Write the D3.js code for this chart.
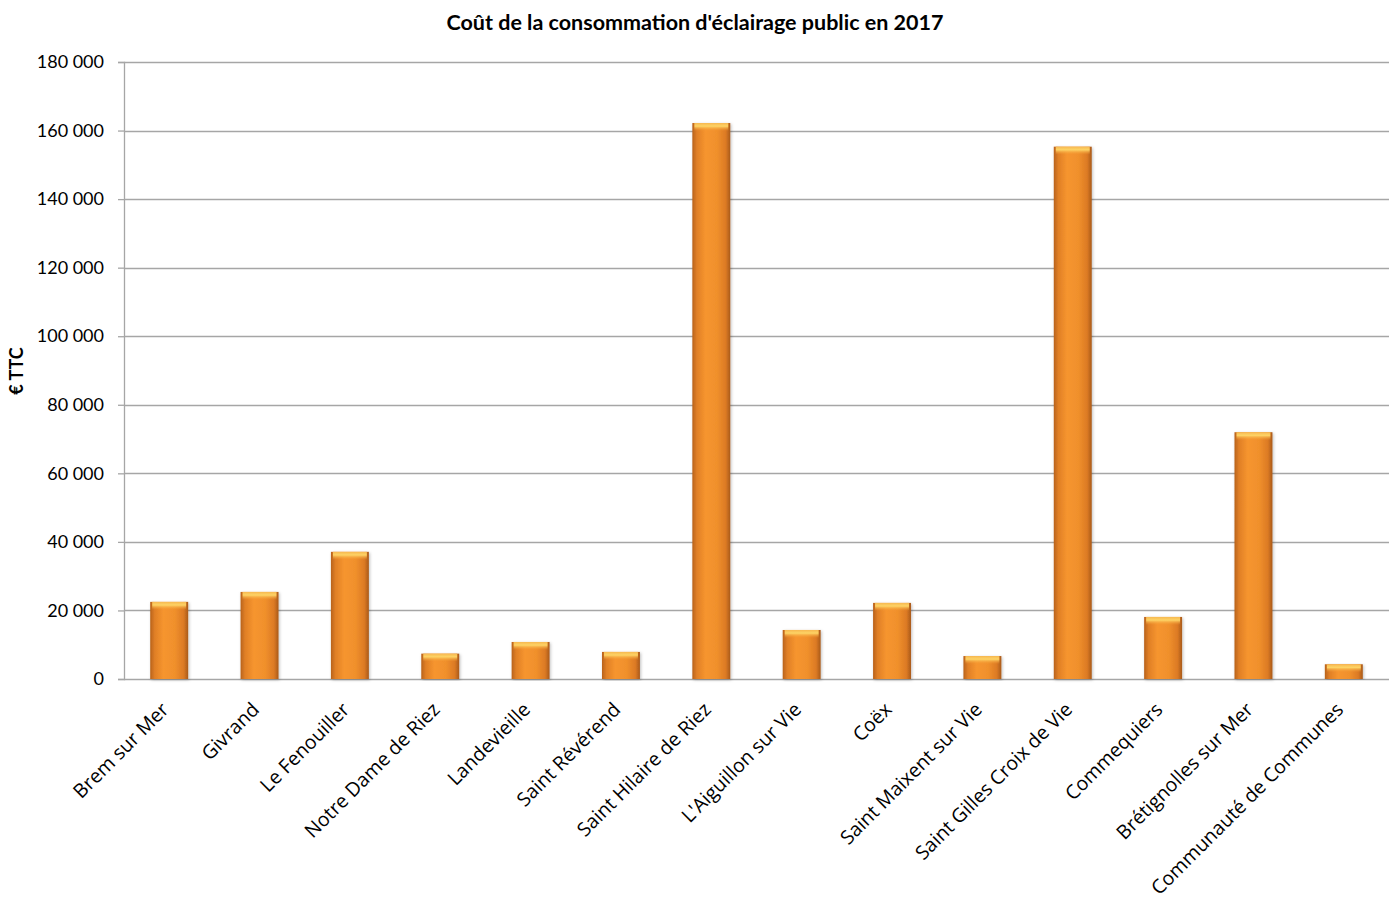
<!DOCTYPE html>
<html lang='fr'>

<head>
   <meta charset='UTF-8'>
   <title>Coût de la consommation d'éclairage public en 2017</title>
   <script src='https://d3js.org/d3.v7.min.js'></script>
   <style>
      body {
         margin: 0;
         background: #fff;
      }

      svg {
         display: block;
         font-family: 'Lato', 'Open Sans', sans-serif;
      }
   </style>
</head>

<body>
   <div id='chart'></div>
   <script>
      const communes = ['Brem sur Mer', 'Givrand', 'Le Fenouiller', 'Notre Dame de Riez', 'Landevieille',
         'Saint Révérend', 'Saint Hilaire de Riez', "L'Aiguillon sur Vie", 'Coëx', 'Saint Maixent sur Vie',
         'Saint Gilles Croix de Vie', 'Commequiers', 'Brétignolles sur Mer', 'Communauté de Communes'];
      const couts = [22500, 25400, 37100, 7400, 10800, 7900, 162200, 14300, 22200, 6700, 155300, 18100, 72000, 4300];
      const yTicks = [0, 20000, 40000, 60000, 80000, 100000, 120000, 140000, 160000, 180000];
      const title = "Coût de la consommation d'éclairage public en 2017";
      const yTitle = '€ TTC';

      const W = 1389, H = 899;
      const margins = { top: 62, right: 0, bottom: 220, left: 124 };
      const width = W - margins.left - margins.right;
      const height = 679 - margins.top;

      const svg = d3.select('#chart').append('svg').attr('width', W).attr('height', H);
      const defs = svg.append('defs');

      // horizontal shading of the bars: darker edges, bright centre
      const side = defs.append('linearGradient').attr('id', 'barSide').attr('x1', 0).attr('x2', 1).attr('y1', 0).attr('y2', 0);
      [[0, '#b8621c'], [0.12, '#e07f26'], [0.35, '#f6952f'], [0.65, '#f0902c'], [0.88, '#dc7a24'], [1, '#a95a1a']]
         .forEach(s => side.append('stop').attr('offset', s[0]).attr('stop-color', s[1]));

      const cap = defs.append('linearGradient').attr('id', 'barCap').attr('x1', 0).attr('x2', 0).attr('y1', 0).attr('y2', 1);
      [[0, '#f7b850'], [0.4, '#fdd466'], [1, '#f59a33', 0]]
         .forEach(s => cap.append('stop').attr('offset', s[0]).attr('stop-color', s[1]).attr('stop-opacity', s.length > 2 ? s[2] : 1));

      const shade = defs.append('filter').attr('id', 'shadow').attr('x', '-20%').attr('y', '-5%').attr('width', '140%').attr('height', '110%');
      shade.append('feDropShadow').attr('dx', 1).attr('dy', 1).attr('stdDeviation', 1.5).attr('flood-color', '#000').attr('flood-opacity', 0.25);

      const g = svg.append('g').attr('transform', `translate(${margins.left}, ${margins.top})`);

      const x = d3.scaleBand().domain(communes).range([0, width]).paddingInner(0.58).paddingOuter(0.29);
      const y = d3.scaleLinear().domain([0, 180000]).range([height, 0]);

      const fmt = d => d3.format(',')(d).replace(/,/g, ' ');

      // gridlines
      g.append('g').selectAll('line').data(yTicks).join('line')
         .attr('x1', 0).attr('x2', width)
         .attr('y1', d => Math.round(y(d)) + 0.5).attr('y2', d => Math.round(y(d)) + 0.5)
         .attr('stroke', '#a6a6a6').attr('stroke-width', 1.3);

      // y axis
      const yAxis = g.append('g').call(d3.axisLeft(y).tickValues(yTicks).tickFormat(fmt).tickSize(6).tickPadding(14));
      yAxis.select('.domain').attr('stroke', '#a6a6a6').attr('stroke-width', 1.3);
      yAxis.selectAll('.tick line').attr('stroke', '#a6a6a6').attr('stroke-width', 1.3);
      yAxis.selectAll('.tick text').attr('font-size', 18).attr('fill', '#000').attr('font-family', 'Lato');

      // bars
      const bars = g.append('g').selectAll('g').data(communes).join('g')
         .attr('transform', d => `translate(${x(d)}, 0)`);
      bars.append('rect')
         .attr('y', (d, i) => y(couts[i]))
         .attr('width', x.bandwidth())
         .attr('height', (d, i) => height - y(couts[i]))
         .attr('fill', 'url(#barSide)')
         .attr('filter', 'url(#shadow)');
      bars.append('rect')
         .attr('x', 2).attr('y', (d, i) => y(couts[i]))
         .attr('width', x.bandwidth() - 4)
         .attr('height', 8)
         .attr('fill', 'url(#barCap)');

      // category labels
      g.append('g').selectAll('text').data(communes).join('text')
         .attr('transform', d => `translate(${x(d) + x.bandwidth() / 2 - 4}, ${height + 27}) rotate(-45)`)
         .attr('text-anchor', 'end')
         .attr('font-family', 'Open Sans')
         .attr('font-size', 19.5)
         .attr('dy', '0.35em')
         .text(d => d);

      // titles
      svg.append('text')
         .attr('x', 695).attr('y', 30)
         .attr('text-anchor', 'middle')
         .attr('font-size', 21.5).attr('font-weight', 'bold')
         .text(title);
      svg.append('text')
         .attr('transform', 'translate(23, 371) rotate(-90)')
         .attr('text-anchor', 'middle')
         .attr('font-size', 18).attr('font-weight', 'bold')
         .text(yTitle);
   </script>
</body>

</html>
